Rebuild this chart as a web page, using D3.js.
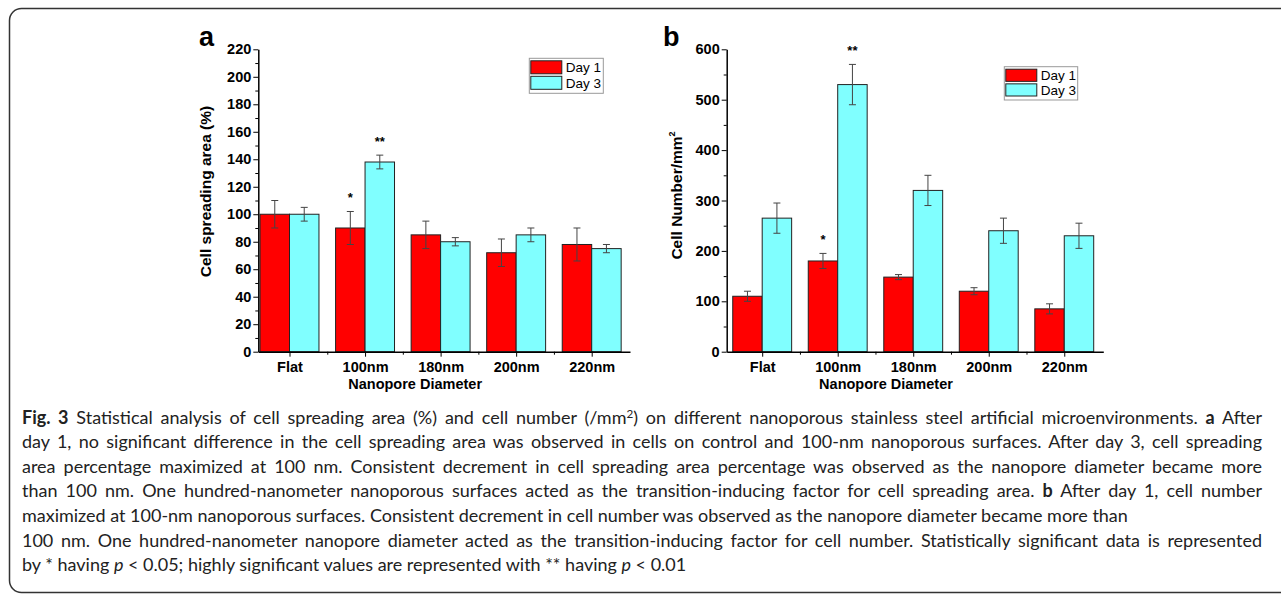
<!DOCTYPE html>
<html><head><meta charset="utf-8">
<script src="https://cdn.jsdelivr.net/npm/d3@7"></script>
<style>
html,body{margin:0;padding:0;background:#fff;}
svg{display:block;}
</style></head>
<body>
<svg id="fig" width="1281" height="596"></svg>
<script>
// ---------------- DATA ----------------
const categories = ["Flat", "100nm", "180nm", "200nm", "220nm"];
const seriesNames = ["Day 1", "Day 3"];

// panel a : cell spreading area (%)
const spreadDay1    = [100, 90, 85, 72, 78];
const spreadDay1Err = [10, 12, 10, 10, 12];
const spreadDay3    = [100, 138, 80, 85, 75];
const spreadDay3Err = [5, 5, 3, 5, 3];
const spreadSig1    = ["", "*", "", "", ""];
const spreadSig3    = ["", "**", "", "", ""];
const spreadTicks   = [0, 20, 40, 60, 80, 100, 120, 140, 160, 180, 200, 220];

// panel b : cell number / mm^2
const countDay1    = [110, 180, 148, 120, 85];
const countDay1Err = [10, 15, 5, 7, 10];
const countDay3    = [265, 530, 320, 240, 230];
const countDay3Err = [30, 40, 30, 25, 25];
const countSig1    = ["", "*", "", "", ""];
const countSig3    = ["", "**", "", "", ""];
const countTicks   = [0, 100, 200, 300, 400, 500, 600];

const xAxisTitle = "Nanopore Diameter";

const captionLines = [
  [{t:"Fig. 3", b:1}, {t:" Statistical analysis of cell spreading area (%) and cell number (/mm"}, {t:"2", sup:1}, {t:") on different nanoporous stainless steel artificial microenvironments. "}, {t:"a", b:1}, {t:" After"}],
  [{t:"day 1, no significant difference in the cell spreading area was observed in cells on control and 100-nm nanoporous surfaces. After day 3, cell spreading"}],
  [{t:"area percentage maximized at 100 nm. Consistent decrement in cell spreading area percentage was observed as the nanopore diameter became more"}],
  [{t:"than 100 nm. One hundred-nanometer nanoporous surfaces acted as the transition-inducing factor for cell spreading area. "}, {t:"b", b:1}, {t:" After day 1, cell number"}],
  [{t:"maximized at 100-nm nanoporous surfaces. Consistent decrement in cell number was observed as the nanopore diameter became more than"}],
  [{t:"100 nm. One hundred-nanometer nanopore diameter acted as the transition-inducing factor for cell number. Statistically significant data is represented"}],
  [{t:"by * having "}, {t:"p", i:1}, {t:" < 0.05; highly significant values are represented with ** having "}, {t:"p", i:1}, {t:" < 0.01"}]
];
const captionJustified = [true, true, true, true, false, true, false];

// ---------------- STYLE ----------------
const RED = "#ff0000", CYAN = "#80ffff";
const colors = [RED, CYAN];
const ARIAL = "'Liberation Sans', Arial, sans-serif";

const svg = d3.select("#fig");

// frame
svg.append("rect")
  .attr("x", 9.5).attr("y", 8.5).attr("width", 1300).attr("height", 584)
  .attr("rx", 12).attr("ry", 12)
  .attr("fill", "none").attr("stroke", "#333").attr("stroke-width", 1.5);

const panels = [
  {letter:"a", left:258.3, right:630, top:49.3, bottom:351.7, xDom:[0.587, 5.507],
   ticks:spreadTicks, series:[spreadDay1, spreadDay3], errs:[spreadDay1Err, spreadDay3Err],
   sig:[spreadSig1, spreadSig3], ylabel:"Cell spreading area (%)", ylabSup:"",
   ylabX:205, ylabDy:-9, legend:{x:529.3, y:58.3, w:74, h:35}, letterX:199},
  {letter:"b", left:726.7, right:1103.3, top:49.3, bottom:351.7, xDom:[0.53, 5.517],
   ticks:countTicks, series:[countDay1, countDay3], errs:[countDay1Err, countDay3Err],
   sig:[countSig1, countSig3], ylabel:"Cell Number/mm", ylabSup:"2",
   ylabX:676, ylabDy:-5, legend:{x:1004.3, y:66.7, w:73.4, h:33.3}, letterX:663}
];

const BW = 0.39; // bar width in category units

panels.forEach(p => {
  const g = svg.append("g");
  const idx = categories.map((c, i) => i + 1);
  const x = d3.scaleLinear().domain(p.xDom).range([p.left, p.right]);
  const y = d3.scaleLinear().domain([0, d3.max(p.ticks)]).range([p.bottom, p.top]);

  // bars
  p.series.forEach((vals, s) => {
    const x0 = i => s === 0 ? x(i - BW) : x(i);
    const x1 = i => s === 0 ? x(i) : x(i + BW);
    g.append("g").selectAll("rect").data(vals).join("rect")
      .attr("x", (d, k) => x0(idx[k]))
      .attr("y", d => y(d))
      .attr("width", (d, k) => x1(idx[k]) - x0(idx[k]))
      .attr("height", d => y(0) - y(d))
      .attr("fill", colors[s]).attr("stroke", "#222").attr("stroke-width", 1);

    // error bars
    const eg = g.append("g").attr("stroke", "#444").attr("stroke-width", 1);
    vals.forEach((v, k) => {
      const cx = (x0(idx[k]) + x1(idx[k])) / 2;
      const e = p.errs[s][k];
      eg.append("line").attr("x1", cx).attr("x2", cx).attr("y1", y(v - e)).attr("y2", y(v + e));
      [v - e, v + e].forEach(w => eg.append("line")
        .attr("x1", cx - 3.5).attr("x2", cx + 3.5).attr("y1", y(w)).attr("y2", y(w)));
      const mark = p.sig[s][k];
      if (mark) {
        g.append("text").attr("x", cx).attr("y", y(v + e) - 9.5)
          .attr("text-anchor", "middle").attr("font-family", ARIAL)
          .attr("font-weight", "bold").attr("font-size", 13).text(mark);
      }
    });
  });

  // y axis
  const gy = g.append("g").attr("transform", `translate(${p.left},0)`)
    .call(d3.axisLeft(y).tickValues(p.ticks).tickSize(5).tickPadding(2).tickSizeOuter(0).tickFormat(d3.format("d")));
  gy.attr("font-family", ARIAL).attr("font-size", 14.5).attr("font-weight", "bold");
  gy.select(".domain").attr("stroke", "#000").attr("stroke-width", 1.5);
  gy.selectAll("text").attr("fill", "#000");
  const gym = g.append("g").attr("transform", `translate(${p.left},0)`)
    .call(d3.axisLeft(y).tickValues(d3.pairs(p.ticks, (a, b) => (a + b) / 2)).tickSize(3).tickFormat(() => ""));
  gym.select(".domain").remove();

  // x axis
  const gx = g.append("g").attr("transform", `translate(0,${p.bottom})`)
    .call(d3.axisBottom(x).tickValues(idx).tickSize(5).tickSizeOuter(0).tickFormat(i => categories[i - 1]));
  gx.attr("font-family", ARIAL).attr("font-size", 14.5).attr("font-weight", "bold");
  gx.select(".domain").attr("stroke", "#000").attr("stroke-width", 1.5);
  gx.selectAll("text").attr("y", 10.5).attr("fill", "#000");
  const gxm = g.append("g").attr("transform", `translate(0,${p.bottom})`)
    .call(d3.axisBottom(x).tickValues(d3.pairs(idx, (a, b) => (a + b) / 2)).tickSize(3).tickFormat(() => ""));
  gxm.select(".domain").remove();

  // axis titles
  g.append("text").attr("x", (p.left + p.right) / 2 - 29).attr("y", p.bottom + 37)
    .attr("text-anchor", "middle").attr("font-family", ARIAL)
    .attr("font-weight", "bold").attr("font-size", 14.5).text(xAxisTitle);

  const yt = g.append("text")
    .attr("transform", `translate(${p.ylabX + 5.5},${(p.top + p.bottom) / 2 + p.ylabDy}) rotate(-90)`)
    .attr("text-anchor", "middle").attr("font-family", ARIAL)
    .attr("font-weight", "bold").attr("font-size", 15.5);
  yt.append("tspan").text(p.ylabel);
  if (p.ylabSup) yt.append("tspan").attr("dy", -7).attr("font-size", 9).text(p.ylabSup);

  // panel letter
  g.append("text").attr("x", p.letterX).attr("y", 46)
    .attr("font-family", ARIAL).attr("font-weight", "bold").attr("font-size", 27).text(p.letter);

  // legend
  const L = p.legend;
  const lg = g.append("g");
  lg.append("rect").attr("x", L.x).attr("y", L.y).attr("width", L.w).attr("height", L.h)
    .attr("fill", "#fff").attr("stroke", "#999").attr("stroke-width", 1);
  const rowH = (L.h - 4) / 2;
  seriesNames.forEach((name, s) => {
    const ry = L.y + 2 + s * rowH + 0.5;
    lg.append("rect").attr("x", L.x + 1.5).attr("y", ry).attr("width", 31).attr("height", rowH - 2.5)
      .attr("fill", colors[s]).attr("stroke", "#222").attr("stroke-width", 1);
    lg.append("text").attr("x", L.x + 36.5).attr("y", ry + (rowH - 2.5) / 2 + 5)
      .attr("font-family", ARIAL).attr("font-size", 13.5).text(name);
  });
});

// ---------------- CAPTION ----------------
const CAP_X = 22, CAP_W = 1240, CAP_Y0 = 423.5, CAP_DY = 24.6;
const capG = svg.append("g").attr("font-family", "Lato, 'Open Sans', sans-serif").attr("fill", "#222");

function buildLine(segs, k, fs) {
  const t = capG.append("text").attr("x", CAP_X).attr("y", CAP_Y0 + k * CAP_DY)
    .attr("font-size", fs).attr("xml:space", "preserve").style("white-space", "pre");
  let lifted = false;
  segs.forEach(sg => {
    const ts = t.append("tspan").text(sg.t);
    if (sg.b) ts.attr("font-weight", "bold");
    if (sg.i) ts.attr("font-style", "italic");
    if (sg.sup) { ts.attr("dy", -6).attr("font-size", fs * 0.65); lifted = true; }
    else if (lifted) { ts.attr("dy", 6); lifted = false; }
  });
  return t;
}

// calibrate font size on the two unjustified lines
let fs = 16;
let probe5 = buildLine(captionLines[4], 4, fs), probe7 = buildLine(captionLines[6], 6, fs);
const natural = probe5.node().getComputedTextLength() + probe7.node().getComputedTextLength();
probe5.remove(); probe7.remove();
fs = fs * (1081 + 690) / natural;

captionLines.forEach((segs, k) => {
  const t = buildLine(segs, k, fs);
  if (captionJustified[k]) {
    const w = t.node().getComputedTextLength();
    const nSp = segs.map(s => s.t).join("").split(" ").length - 1;
    t.style("word-spacing", ((CAP_W - w) / nSp) + "px");
  }
});
</script>
</body></html>
